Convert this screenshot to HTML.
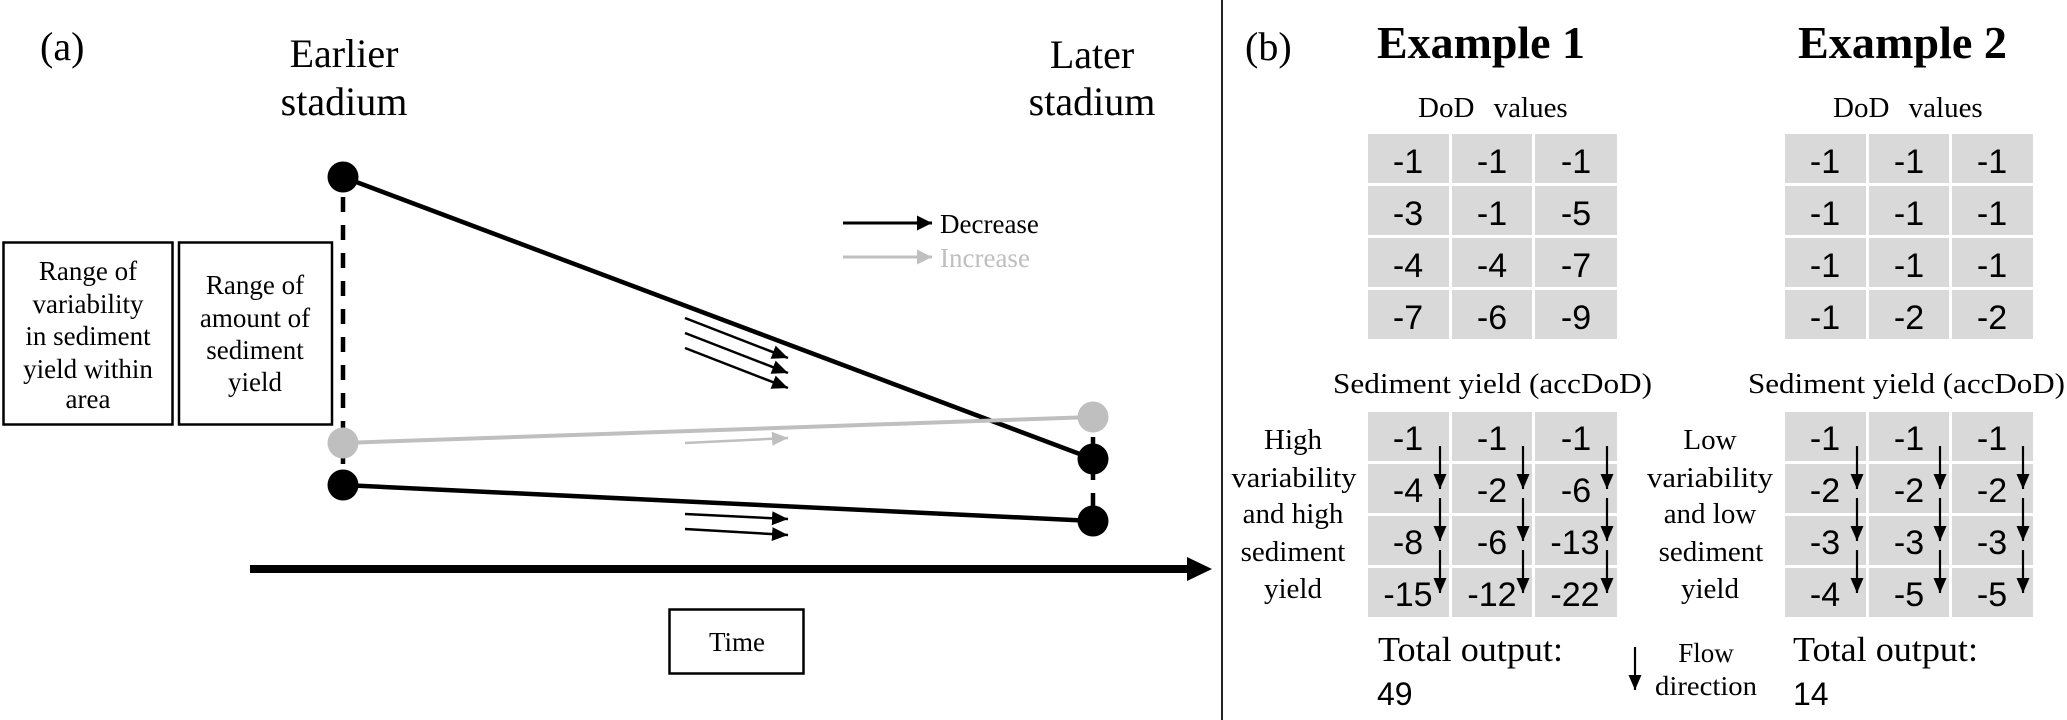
<!DOCTYPE html>
<html>
<head>
<meta charset="utf-8">
<style>
  html, body { margin: 0; padding: 0; background: #ffffff; }
  body { width: 2067px; height: 720px; overflow: hidden; }
  svg { display: block; }
  .serif { font-family: "Liberation Serif", "Times New Roman", serif; fill: #000; }
  .sans { font-family: "Liberation Sans", Arial, sans-serif; fill: #000; }
</style>
</head>
<body>
<svg width="2067" height="720" viewBox="0 0 2067 720" xmlns="http://www.w3.org/2000/svg">
  <defs>
    <marker id="ahSmall" markerUnits="userSpaceOnUse" markerWidth="17" markerHeight="15" refX="16" refY="7" orient="auto">
      <path d="M0,0 L16,7 L0,14 z" fill="#000"/>
    </marker>
    <marker id="ahSmallGray" markerUnits="userSpaceOnUse" markerWidth="17" markerHeight="15" refX="16" refY="7" orient="auto">
      <path d="M0,0 L16,7 L0,14 z" fill="#bfbfbf"/>
    </marker>
    <marker id="ahLeg" markerUnits="userSpaceOnUse" markerWidth="16" markerHeight="16" refX="15" refY="7.5" orient="auto">
      <path d="M0,0 L15,7.5 L0,15 z" fill="#000"/>
    </marker>
    <marker id="ahLegGray" markerUnits="userSpaceOnUse" markerWidth="16" markerHeight="16" refX="15" refY="7.5" orient="auto">
      <path d="M0,0 L15,7.5 L0,15 z" fill="#bfbfbf"/>
    </marker>
    <marker id="ahDown" markerUnits="userSpaceOnUse" markerWidth="16" markerHeight="14" refX="15" refY="6.5" orient="auto">
      <path d="M0,0 L15,6.5 L0,13 z" fill="#000"/>
    </marker>
  </defs>

  <rect x="0" y="0" width="2067" height="720" fill="#fff"/>

  <!-- ================= PANEL (a) ================= -->
  <text class="serif" x="40" y="60" font-size="40">(a)</text>

  <text class="serif" x="344" y="67" font-size="40" text-anchor="middle">Earlier</text>
  <text class="serif" x="344" y="115" font-size="40" text-anchor="middle">stadium</text>
  <text class="serif" x="1092" y="68" font-size="40" text-anchor="middle">Later</text>
  <text class="serif" x="1092" y="115" font-size="40" text-anchor="middle">stadium</text>

  <!-- boxes -->
  <rect x="3.5" y="242.5" width="169" height="182" fill="none" stroke="#000" stroke-width="2.5"/>
  <rect x="179" y="242.5" width="153" height="182" fill="none" stroke="#000" stroke-width="2.5"/>
  <g class="serif" font-size="27" text-anchor="middle">
    <text x="88" y="280">Range of</text>
    <text x="88" y="313">variability</text>
    <text x="88" y="345">in sediment</text>
    <text x="88" y="378">yield within</text>
    <text x="88" y="408">area</text>
    <text x="255" y="294">Range of</text>
    <text x="255" y="327">amount of</text>
    <text x="255" y="359">sediment</text>
    <text x="255" y="391">yield</text>
  </g>

  <!-- dashed verticals -->
  <line x1="343" y1="197" x2="343" y2="485" stroke="#000" stroke-width="4.5" stroke-dasharray="15 13"/>
  <line x1="1093" y1="409" x2="1093" y2="521" stroke="#000" stroke-width="4.5" stroke-dasharray="15 13"/>

  <!-- main lines -->
  <line x1="343" y1="177" x2="1093" y2="459" stroke="#000" stroke-width="4.5"/>
  <line x1="343" y1="443" x2="1093" y2="417" stroke="#bfbfbf" stroke-width="4"/>
  <line x1="343" y1="485" x2="1093" y2="521" stroke="#000" stroke-width="4.5"/>

  <!-- circles -->
  <circle cx="343" cy="177" r="15.5" fill="#000"/>
  <circle cx="343" cy="443" r="15.5" fill="#bfbfbf"/>
  <circle cx="343" cy="485" r="15.5" fill="#000"/>
  <circle cx="1093" cy="417" r="15.5" fill="#bfbfbf"/>
  <circle cx="1093" cy="459" r="15.5" fill="#000"/>
  <circle cx="1093" cy="521" r="15.5" fill="#000"/>

  <!-- small arrows -->
  <line x1="685" y1="318" x2="788" y2="358" stroke="#000" stroke-width="2.5" marker-end="url(#ahSmall)"/>
  <line x1="685" y1="333" x2="788" y2="373" stroke="#000" stroke-width="2.5" marker-end="url(#ahSmall)"/>
  <line x1="685" y1="348" x2="788" y2="388" stroke="#000" stroke-width="2.5" marker-end="url(#ahSmall)"/>
  <line x1="685" y1="443" x2="788" y2="438" stroke="#bfbfbf" stroke-width="2.5" marker-end="url(#ahSmallGray)"/>
  <line x1="685" y1="514" x2="788" y2="519" stroke="#000" stroke-width="2.5" marker-end="url(#ahSmall)"/>
  <line x1="685" y1="529" x2="788" y2="535" stroke="#000" stroke-width="2.5" marker-end="url(#ahSmall)"/>

  <!-- legend -->
  <line x1="843" y1="223" x2="932" y2="223" stroke="#000" stroke-width="3" marker-end="url(#ahLeg)"/>
  <text class="serif" x="940" y="233" font-size="27">Decrease</text>
  <line x1="843" y1="257" x2="932" y2="257" stroke="#bfbfbf" stroke-width="3" marker-end="url(#ahLegGray)"/>
  <text class="serif" x="940" y="267" font-size="27" fill="#bfbfbf" style="fill:#bfbfbf">Increase</text>

  <!-- time axis -->
  <line x1="250" y1="569" x2="1192" y2="569" stroke="#000" stroke-width="8"/>
  <polygon points="1187,557 1212,569 1187,581" fill="#000"/>

  <rect x="669.5" y="609.5" width="134" height="64" fill="none" stroke="#000" stroke-width="2.5"/>
  <text class="serif" x="737" y="651" font-size="27" text-anchor="middle">Time</text>

  <!-- divider -->
  <line x1="1222" y1="0" x2="1222" y2="720" stroke="#222" stroke-width="2"/>

  <!-- ================= PANEL (b) ================= -->
  <text class="serif" x="1245" y="60" font-size="40">(b)</text>
  <text class="serif" x="1377" y="58" font-size="46" font-weight="bold" textLength="208" lengthAdjust="spacingAndGlyphs">Example 1</text>
  <text class="serif" x="1798" y="58" font-size="46" font-weight="bold" textLength="209" lengthAdjust="spacingAndGlyphs">Example 2</text>

  <text class="serif" x="1418" y="117" font-size="29" word-spacing="12">DoD values</text>
  <text class="serif" x="1833" y="117" font-size="29" word-spacing="12">DoD values</text>

  <!-- Grid 1 -->
  <g fill="#d9d9d9">
    <rect x="1368" y="134" width="81" height="49"/><rect x="1452" y="134" width="80" height="49"/><rect x="1535" y="134" width="82" height="49"/>
    <rect x="1368" y="186" width="81" height="49"/><rect x="1452" y="186" width="80" height="49"/><rect x="1535" y="186" width="82" height="49"/>
    <rect x="1368" y="238" width="81" height="49"/><rect x="1452" y="238" width="80" height="49"/><rect x="1535" y="238" width="82" height="49"/>
    <rect x="1368" y="290" width="81" height="49"/><rect x="1452" y="290" width="80" height="49"/><rect x="1535" y="290" width="82" height="49"/>
  </g>
  <g class="sans" font-size="34" text-anchor="middle">
    <text x="1408" y="173">-1</text><text x="1492" y="173">-1</text><text x="1576" y="173">-1</text>
    <text x="1408" y="225">-3</text><text x="1492" y="225">-1</text><text x="1576" y="225">-5</text>
    <text x="1408" y="277">-4</text><text x="1492" y="277">-4</text><text x="1576" y="277">-7</text>
    <text x="1408" y="329">-7</text><text x="1492" y="329">-6</text><text x="1576" y="329">-9</text>
  </g>

  <!-- Grid 3 -->
  <g fill="#d9d9d9">
    <rect x="1785" y="134" width="81" height="49"/><rect x="1869" y="134" width="80" height="49"/><rect x="1952" y="134" width="81" height="49"/>
    <rect x="1785" y="186" width="81" height="49"/><rect x="1869" y="186" width="80" height="49"/><rect x="1952" y="186" width="81" height="49"/>
    <rect x="1785" y="238" width="81" height="49"/><rect x="1869" y="238" width="80" height="49"/><rect x="1952" y="238" width="81" height="49"/>
    <rect x="1785" y="290" width="81" height="49"/><rect x="1869" y="290" width="80" height="49"/><rect x="1952" y="290" width="81" height="49"/>
  </g>
  <g class="sans" font-size="34" text-anchor="middle">
    <text x="1825" y="173">-1</text><text x="1909" y="173">-1</text><text x="1992" y="173">-1</text>
    <text x="1825" y="225">-1</text><text x="1909" y="225">-1</text><text x="1992" y="225">-1</text>
    <text x="1825" y="277">-1</text><text x="1909" y="277">-1</text><text x="1992" y="277">-1</text>
    <text x="1825" y="329">-1</text><text x="1909" y="329">-2</text><text x="1992" y="329">-2</text>
  </g>

  <!-- Sediment yield titles -->
  <text class="serif" x="1333" y="393" font-size="28" textLength="319" lengthAdjust="spacingAndGlyphs">Sediment yield (accDoD)</text>
  <text class="serif" x="1748" y="393" font-size="28" textLength="317" lengthAdjust="spacingAndGlyphs">Sediment yield (accDoD)</text>

  <!-- Grid 2 -->
  <g fill="#d9d9d9">
    <rect x="1368" y="412" width="81" height="49"/><rect x="1452" y="412" width="80" height="49"/><rect x="1535" y="412" width="82" height="49"/>
    <rect x="1368" y="464" width="81" height="49"/><rect x="1452" y="464" width="80" height="49"/><rect x="1535" y="464" width="82" height="49"/>
    <rect x="1368" y="516" width="81" height="49"/><rect x="1452" y="516" width="80" height="49"/><rect x="1535" y="516" width="82" height="49"/>
    <rect x="1368" y="568" width="81" height="49"/><rect x="1452" y="568" width="80" height="49"/><rect x="1535" y="568" width="82" height="49"/>
  </g>
  <g class="sans" font-size="34" text-anchor="middle">
    <text x="1408" y="450">-1</text><text x="1492" y="450">-1</text><text x="1576" y="450">-1</text>
    <text x="1408" y="502">-4</text><text x="1492" y="502">-2</text><text x="1576" y="502">-6</text>
    <text x="1408" y="554">-8</text><text x="1492" y="554">-6</text><text x="1575" y="554">-13</text>
    <text x="1408" y="606">-15</text><text x="1492" y="606">-12</text><text x="1575" y="606">-22</text>
  </g>

  <!-- Grid 4 -->
  <g fill="#d9d9d9">
    <rect x="1785" y="412" width="81" height="49"/><rect x="1869" y="412" width="80" height="49"/><rect x="1952" y="412" width="81" height="49"/>
    <rect x="1785" y="464" width="81" height="49"/><rect x="1869" y="464" width="80" height="49"/><rect x="1952" y="464" width="81" height="49"/>
    <rect x="1785" y="516" width="81" height="49"/><rect x="1869" y="516" width="80" height="49"/><rect x="1952" y="516" width="81" height="49"/>
    <rect x="1785" y="568" width="81" height="49"/><rect x="1869" y="568" width="80" height="49"/><rect x="1952" y="568" width="81" height="49"/>
  </g>
  <g class="sans" font-size="34" text-anchor="middle">
    <text x="1825" y="450">-1</text><text x="1909" y="450">-1</text><text x="1992" y="450">-1</text>
    <text x="1825" y="502">-2</text><text x="1909" y="502">-2</text><text x="1992" y="502">-2</text>
    <text x="1825" y="554">-3</text><text x="1909" y="554">-3</text><text x="1992" y="554">-3</text>
    <text x="1825" y="606">-4</text><text x="1909" y="606">-5</text><text x="1992" y="606">-5</text>
  </g>

  <!-- flow arrows grid 2 -->
  <g stroke="#000" stroke-width="2.2">
    <line x1="1440" y1="446" x2="1440" y2="489" marker-end="url(#ahDown)"/>
    <line x1="1440" y1="498" x2="1440" y2="541" marker-end="url(#ahDown)"/>
    <line x1="1440" y1="550" x2="1440" y2="593" marker-end="url(#ahDown)"/>
    <line x1="1523" y1="446" x2="1523" y2="489" marker-end="url(#ahDown)"/>
    <line x1="1523" y1="498" x2="1523" y2="541" marker-end="url(#ahDown)"/>
    <line x1="1523" y1="550" x2="1523" y2="593" marker-end="url(#ahDown)"/>
    <line x1="1607" y1="446" x2="1607" y2="489" marker-end="url(#ahDown)"/>
    <line x1="1607" y1="498" x2="1607" y2="541" marker-end="url(#ahDown)"/>
    <line x1="1607" y1="550" x2="1607" y2="593" marker-end="url(#ahDown)"/>
    <!-- grid 4 -->
    <line x1="1857" y1="446" x2="1857" y2="489" marker-end="url(#ahDown)"/>
    <line x1="1857" y1="498" x2="1857" y2="541" marker-end="url(#ahDown)"/>
    <line x1="1857" y1="550" x2="1857" y2="593" marker-end="url(#ahDown)"/>
    <line x1="1940" y1="446" x2="1940" y2="489" marker-end="url(#ahDown)"/>
    <line x1="1940" y1="498" x2="1940" y2="541" marker-end="url(#ahDown)"/>
    <line x1="1940" y1="550" x2="1940" y2="593" marker-end="url(#ahDown)"/>
    <line x1="2023" y1="446" x2="2023" y2="489" marker-end="url(#ahDown)"/>
    <line x1="2023" y1="498" x2="2023" y2="541" marker-end="url(#ahDown)"/>
    <line x1="2023" y1="550" x2="2023" y2="593" marker-end="url(#ahDown)"/>
    <!-- legend arrow -->
    <line x1="1635" y1="647" x2="1635" y2="690" marker-end="url(#ahDown)"/>
  </g>

  <!-- side labels -->
  <g class="serif" font-size="29" text-anchor="middle">
    <text x="1293" y="449">High</text>
    <text x="1294" y="487" textLength="125" lengthAdjust="spacingAndGlyphs">variability</text>
    <text x="1293" y="523">and high</text>
    <text x="1293" y="561">sediment</text>
    <text x="1293" y="598">yield</text>

    <text x="1710" y="449">Low</text>
    <text x="1710" y="487" textLength="126" lengthAdjust="spacingAndGlyphs">variability</text>
    <text x="1710" y="523">and low</text>
    <text x="1711" y="561">sediment</text>
    <text x="1710" y="598">yield</text>
  </g>

  <text class="serif" x="1706" y="662" font-size="27" text-anchor="middle">Flow</text>
  <text class="serif" x="1655" y="695" font-size="27" textLength="102" lengthAdjust="spacingAndGlyphs">direction</text>

  <!-- totals -->
  <text class="serif" x="1378" y="661" font-size="35" textLength="185" lengthAdjust="spacingAndGlyphs">Total output:</text>
  <text class="sans" x="1377" y="705" font-size="32">49</text>
  <text class="serif" x="1793" y="661" font-size="35" textLength="185" lengthAdjust="spacingAndGlyphs">Total output:</text>
  <text class="sans" x="1793" y="705" font-size="32">14</text>
</svg>
</body>
</html>
